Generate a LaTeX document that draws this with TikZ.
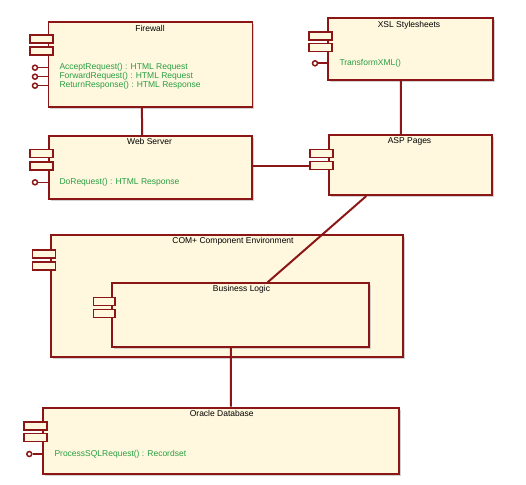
\documentclass[tikz,border=0pt]{standalone}
\usepackage{fontspec}
\setmainfont{Liberation Sans}
\usetikzlibrary{shadows}
\definecolor{umlred}{RGB}{140,22,22}
\definecolor{umlfill}{RGB}{255,248,222}
\definecolor{umlgreen}{RGB}{40,158,66}
\tikzset{
  comp/.style={draw=umlred, line width=1.8pt, fill=umlfill, anchor=north west, inner sep=0pt,
    drop shadow={shadow xshift=2pt, shadow yshift=-2pt, fill=black!25, opacity=0.7}},
  port/.style={draw=umlred, line width=1.5pt, fill=umlfill, minimum width=23pt, minimum height=8pt, inner sep=0pt, anchor=west},
  lolly/.style={draw=umlred, line width=1.5pt, fill=white, circle, minimum size=5pt, inner sep=0pt},
  stem/.style={draw=umlred, line width=1.6pt},
  conn/.style={draw=umlred, line width=2pt},
  title/.style={font=\fontsize{8.5}{10}\selectfont, text=black, inner sep=0pt},
  op/.style={font=\fontsize{8.5}{10}\selectfont, text=umlgreen, inner sep=0pt, anchor=west}
}
\begin{document}
\begin{tikzpicture}[x=1pt,y=-1pt]
\useasboundingbox[fill=white] (0,0) rectangle (526,484);
% Firewall
\node[comp, minimum width=204pt, minimum height=85pt] (fw) at (47.5,21) {};
\node[title] (fwt) at (150,28) {Firewall};
\node[port] (fwp1) at (29.3,39.2) {};
\node[port] (fwp2) at (29.3,50.8) {};
\node[lolly] (fwl1) at (35,67.7) {};
\node[lolly] (fwl2) at (35,76.7) {};
\node[lolly] (fwl3) at (35,85.7) {};
\draw[stem] (fwl1.east) -- (fwl1.east -| fw.west);
\draw[stem] (fwl2.east) -- (fwl2.east -| fw.west);
\draw[stem] (fwl3.east) -- (fwl3.east -| fw.west);
\node[op] (fwo1) at (59.3,67.7) {AcceptRequest() : HTML Request};
\node[op] (fwo2) at (59.3,76.7) {ForwardRequest() : HTML Request};
\node[op] (fwo3) at (59.3,85.7) {ReturnResponse() : HTML Response};
% XSL
\node[comp, minimum width=165pt, minimum height=62pt] (xsl) at (326.7,17.3) {};
\node[title] (xslt) at (409,25) {XSL Stylesheets};
\node[port] (xslp1) at (308.3,36.2) {};
\node[port] (xslp2) at (308.3,47.5) {};
\node[lolly] (xsll1) at (315,63.3) {};
\draw[stem] (xsll1.east) -- (xsll1.east -| xsl.west);
\node[op] (xslo1) at (339.3,63.3) {TransformXML()};
% Web Server
\node[comp, minimum width=203.5pt, minimum height=63.3pt] (ws) at (47.7,135) {};
\node[title] (wst) at (149.5,141.7) {Web Server};
\node[port] (wsp1) at (29.3,153.5) {};
\node[port] (wsp2) at (29.3,165.8) {};
\node[lolly] (wsl1) at (35,182.3) {};
\draw[stem] (wsl1.east) -- (wsl1.east -| ws.west);
\node[op] (wso1) at (59.3,182.3) {DoRequest() : HTML Response};
% ASP Pages
\node[comp, minimum width=163.3pt, minimum height=60pt] (asp) at (327.7,134.3) {};
\node[title] (aspt) at (409.5,141.5) {ASP Pages};
\node[port] (aspp1) at (309.3,153.5) {};
\node[port] (aspp2) at (309.3,165.5) {};
% COM+
\node[comp, minimum width=351.7pt, minimum height=121.4pt] (com) at (50,234.3) {};
\node[title] (comt) at (233,241.3) {COM+ Component Environment};
\node[port] (comp1) at (31.7,253.8) {};
\node[port] (comp2) at (31.7,265.8) {};
% Business Logic
\node[comp, minimum width=256.7pt, minimum height=63.4pt] (bl) at (111,282.3) {};
\node[title] (blt) at (241.5,289.5) {Business Logic};
\node[port, minimum width=21.6pt] (blp1) at (92.7,301.7) {};
\node[port, minimum width=21.6pt] (blp2) at (92.7,313.3) {};
% Oracle
\node[comp, minimum width=356.6pt, minimum height=66.6pt] (ora) at (41.7,406.7) {};
\node[title] (orat) at (221.7,413.3) {Oracle Database};
\node[port] (orap1) at (23.3,425.8) {};
\node[port] (orap2) at (23.3,437.5) {};
\node[lolly] (oral1) at (29.3,454) {};
\draw[stem] (oral1.east) -- (oral1.east -| ora.west);
\node[op] (orao1) at (54.3,454) {ProcessSQLRequest() : Recordset};
% connectors
\draw[conn] ([xshift=-8.5pt]fw.south) -- ([xshift=-8.2pt]ws.north);
\draw[conn] ([xshift=-9.2pt]xsl.south) -- ([xshift=-9.3pt]asp.north);
\draw[conn] (aspp2.west -| ws.east) -- (aspp2.west);
\draw[conn] ([xshift=-44pt]asp.south) -- ([xshift=27.4pt]bl.north);
\draw[conn] ([xshift=-9.3pt]bl.south) -- ([xshift=10pt]ora.north);
\end{tikzpicture}
\end{document}
